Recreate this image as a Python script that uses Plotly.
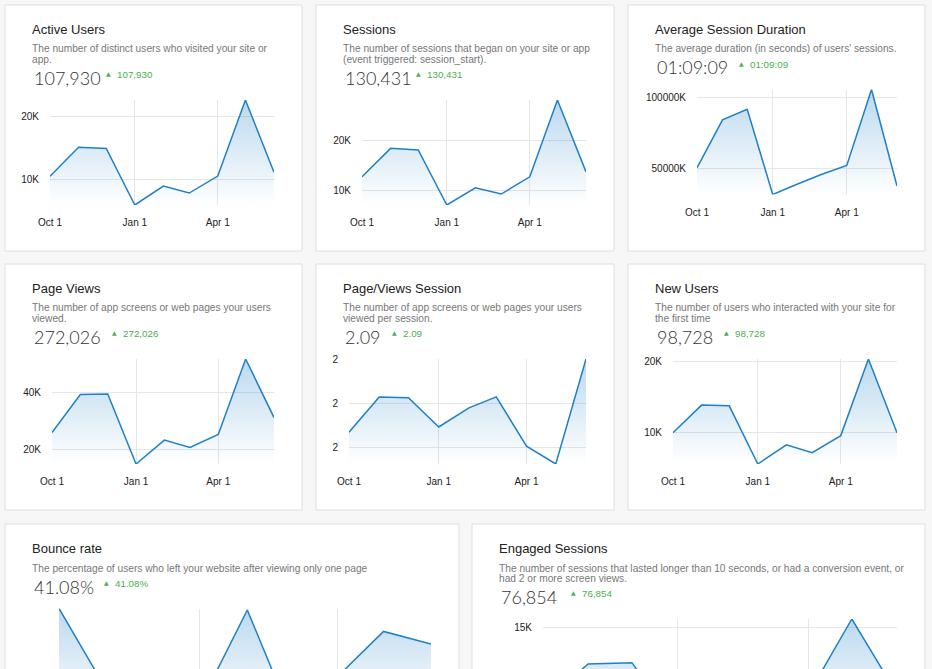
import plotly.graph_objects as go

W, H = 932, 669

# monthly points, Oct 1 .. Jun 1
months = ["2022-10-01", "2022-11-01", "2022-12-01", "2023-01-01", "2023-02-01",
          "2023-03-01", "2023-04-01", "2023-05-01", "2023-06-01"]
x_tickvals = ["2022-10-01", "2023-01-01", "2023-04-01"]
x_ticktext = ["Oct 1", "Jan 1", "Apr 1"]

titles = ["Active Users", "Sessions", "Average Session Duration", "Page Views",
          "Page/Views Session", "New Users", "Bounce rate", "Engaged Sessions"]
descriptions = [
    ["The number of distinct users who visited your site or", "app."],
    ["The number of sessions that began on your site or app", "(event triggered: session_start)."],
    ["The average duration (in seconds) of users' sessions."],
    ["The number of app screens or web pages your users", "viewed."],
    ["The number of app screens or web pages your users", "viewed per session."],
    ["The number of users who interacted with your site for", "the first time"],
    ["The percentage of users who left your website after viewing only one page"],
    ["The number of sessions that lasted longer than 10 seconds, or had a conversion event, or",
     "had 2 or more screen views."],
]
totals = ["107,930", "130,431", "01:09:09", "272,026", "2.09", "98,728", "41.08%", "76,854"]

active_users = [10480, 15100, 14900, 5900, 8900, 7800, 10500, 22600, 11100]
sessions = [12670, 18400, 18070, 7000, 10470, 9200, 12670, 28130, 13670]
avg_duration_k = [50700, 84400, 91800, 31900, 39500, 46000, 52300, 105800, 37900]
page_views = [25900, 39400, 39600, 14700, 23200, 20600, 25200, 52000, 31200]
views_per_session = [2.034, 2.115, 2.113, 2.046, 2.09, 2.115, 2.002, 1.961, 2.202]
new_users = [10000, 13900, 13800, 5600, 8300, 7200, 9600, 20400, 10000]
bounce_rate = [48.0, 37.0, 36.5, 35.0, 47.8, 33.8, 38.8, 44.9, 43.2]
engaged_sessions = [6700, 10920, 11070, 4250, 6800, 6000, 7490, 15920, 7590]

series = [active_users, sessions, avg_duration_k, page_views,
          views_per_session, new_users, bounce_rate, engaged_sessions]

y_tickvals = [[10000, 20000], [10000, 20000], [50000, 100000], [20000, 40000],
              [2.0, 2.1, 2.2], [10000, 20000], [35], [10000, 15000]]
y_ticktext = [["10K", "20K"], ["10K", "20K"], ["50000K", "100000K"], ["20K", "40K"],
              ["2", "2", "2"], ["10K", "20K"], ["35%"], ["10K", "15K"]]

# card boxes (left, top, right, bottom) in pixels, plot left edge, green badge x
boxes = [(5, 5, 302, 251), (316, 5, 614, 251), (628, 5, 925, 251),
         (5, 264, 302, 510), (316, 264, 614, 510), (628, 264, 925, 510),
         (5, 524, 459, 800), (472, 524, 925, 800)]
plot_left = [50, 362, 697, 52, 349, 673, 59, 543]
badge_x = [104, 414, 737, 110, 390, 722, 102, 569]

LINE = "#1f80c6"
FONT = "Liberation Sans, Arial, sans-serif"


def fx(p):
    return p / W


def fy(p):
    return 1 - p / H


fig = go.Figure()
shapes = []
big_numbers = []

for i in range(8):
    n = i + 1
    left, top, right, bottom = boxes[i]
    shapes.append(dict(type="rect", xref="paper", yref="paper", layer="below",
                       x0=fx(left), x1=fx(right), y0=fy(top), y1=fy(bottom),
                       fillcolor="white", line=dict(color="#dedede", width=1)))

    title_y = top + 24
    fig.add_annotation(text=titles[i], x=fx(left + 24.5), y=fy(title_y), xref="paper", yref="paper",
                       xanchor="left", yanchor="middle", showarrow=False,
                       font=dict(family=FONT, size=13, color="#222222"))
    desc_y = title_y + 20
    for j, line in enumerate(descriptions[i]):
        fig.add_annotation(text=line, x=fx(left + 24.5), y=fy(desc_y + 10.5 * j), xref="paper", yref="paper",
                           xanchor="left", yanchor="middle", showarrow=False,
                           font=dict(family=FONT, size=10.2, color="#777777"))
    num_y = desc_y + 10.5 * (len(descriptions[i]) - 1) + 18.5
    big_numbers.append(dict(text=totals[i], x=fx(left + 27), y=fy(num_y), xref="paper", yref="paper",
                            xanchor="left", yanchor="middle", showarrow=False,
                            font=dict(family="Lato, Roboto, sans-serif", size=18, color="#333333", weight=300)))
    fig.add_annotation(text="▲", x=fx(badge_x[i]), y=fy(num_y - 4.5), xref="paper", yref="paper",
                       xanchor="left", yanchor="middle", showarrow=False,
                       font=dict(family="DejaVu Sans", size=6, color="#4caf50"))
    fig.add_annotation(text=totals[i], x=fx(badge_x[i] + 11), y=fy(num_y - 3.5), xref="paper", yref="paper",
                       xanchor="left", yanchor="middle", showarrow=False,
                       font=dict(family=FONT, size=9.8, color="#4caf50"))

    pt = num_y + 22
    pb = pt + 105
    vals = series[i]
    ymin, ymax = min(vals), max(vals)
    lo = ymin
    dom_bottom = fy(pb)
    cut = pb > H
    if cut:
        lo = ymax - (ymax - ymin) * (H - pt) / (pb - pt)
        dom_bottom = 0

    fig.add_trace(go.Scatter(
        x=months, y=vals, mode="lines", xaxis=f"x{n}", yaxis=f"y{n}",
        line=dict(color=LINE, width=1.5), fill="tozeroy",
        fillgradient=dict(type="vertical", start=ymin, stop=ymax,
                          colorscale=[[0, "rgba(31,128,198,0.0)"], [1, "rgba(31,128,198,0.30)"]]),
        showlegend=False, hoverinfo="skip"))

    fig.layout[f"xaxis{n}"] = dict(
        domain=[fx(plot_left[i]), fx(right - 28)], anchor=f"y{n}", type="date",
        range=[months[0], months[-1]], tickmode="array", tickvals=x_tickvals, ticktext=x_ticktext,
        showticklabels=not cut,
        showgrid=True, gridcolor="#e6e6e6", zeroline=False, showline=False, automargin=False,
        ticks="outside", ticklen=8, tickcolor="rgba(0,0,0,0)",
        tickfont=dict(family=FONT, size=10, color="#222222"), fixedrange=True)
    fig.layout[f"yaxis{n}"] = dict(
        domain=[dom_bottom, fy(pt)], anchor=f"x{n}", range=[lo, ymax],
        tickmode="array", tickvals=y_tickvals[i], ticktext=y_ticktext[i],
        showgrid=True, gridcolor="#e6e6e6", zeroline=False, showline=False, automargin=False,
        ticks="outside", ticklen=8, tickcolor="rgba(0,0,0,0)",
        tickfont=dict(family=FONT, size=10, color="#222222"), fixedrange=True)

# the light-weight totals go last
for a in big_numbers:
    fig.add_annotation(**a)

fig.update_layout(width=W, height=H, margin=dict(l=0, r=0, t=0, b=0),
                  paper_bgcolor="#f7f7f7", plot_bgcolor="rgba(0,0,0,0)",
                  shapes=shapes)

fig.write_html("out.html", config={"displayModeBar": False},
               post_script="document.body.style.margin = '0px';")
